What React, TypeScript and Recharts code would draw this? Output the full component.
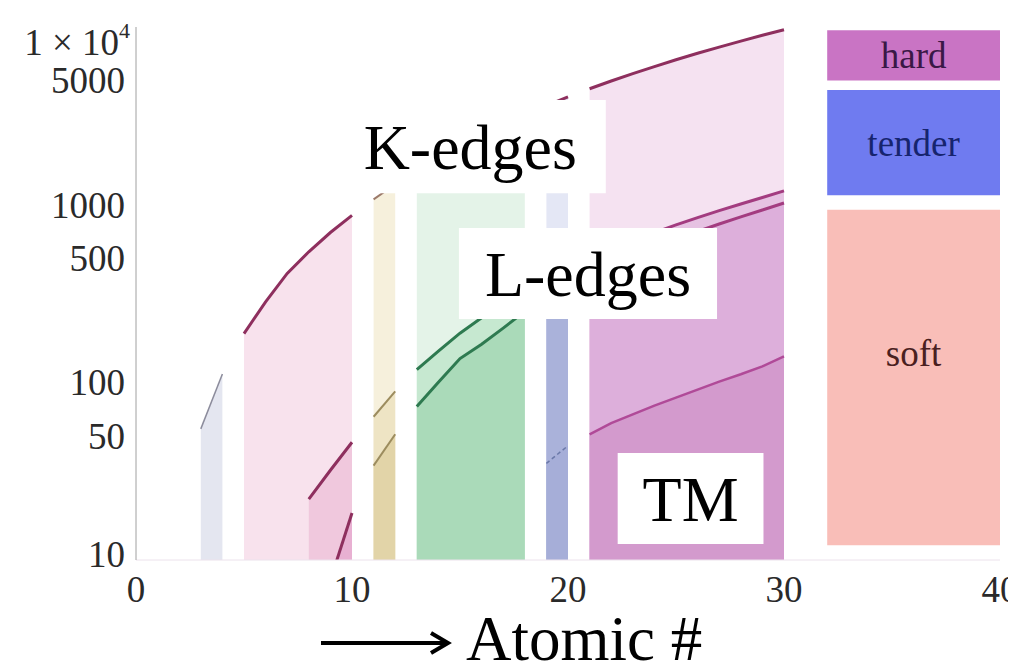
import React from "react";
import { ComposedChart, Area, XAxis, YAxis, ReferenceArea, Label } from "recharts";

// absorption edge energies (eV) by atomic number, one group of elements at a time
const liBeZ = [3, 4];
const liBeK = [54.7, 111.5];

const bNeZ = [5, 6, 7, 8, 9, 10];
const bNeK = [188, 284, 410, 543, 697, 870];
const bNeL1 = [null, null, null, 22, 32, 46];
const bNeL3 = [null, null, null, null, 7.7, 18.4];

const naMgZ = [11, 12];
const naMgK = [1071, 1303];
const naMgL1 = [64, 89];
const naMgL3 = [34, 51];

const alArZ = [13, 14, 15, 16, 17, 18];
const alArK = [1560, 1839, 2146, 2472, 2822, 3206];
const alArL1 = [118, 150, 189, 231, 270, 326];
const alArL3 = [73, 100, 136, 164, 202, 251];

const kCaZ = [19, 20];
const kCaK = [3608, 4038];
const kCaL1 = [379, 438];
const kCaL3 = [295, 346];
const kCaM = [35, 44];

const tmZ = [21, 22, 23, 24, 25, 26, 27, 28, 29, 30];
const tmK = [4492, 4966, 5465, 5989, 6539, 7112, 7709, 8333, 8979, 9659];
const tmL1 = [498, 561, 627, 696, 769, 845, 925, 1009, 1097, 1196];
const tmL3 = [399, 454, 512, 574, 639, 707, 778, 853, 933, 1022];
const tmM = [51, 59, 66, 74, 82, 91, 101, 111, 123, 140];

const xTicks = [0, 10, 20, 30, 40];
const yTicks = [10, 50, 100, 500, 1000, 5000, 10000];

// energy ranges shown as the key on the right
const hardRange = [5000, 9600];
const tenderRange = [1130, 4420];
const softRange = [12.1, 935];

type Seg = {
  key: string;
  z: number[];
  v: (number | null)[];
  fill: string;
  stroke: string;
  width: number;
  dash?: string;
};

const segments: Seg[] = [
  { key: "liBeK", z: liBeZ, v: liBeK, fill: "#e4e6f0", stroke: "#8c8c9c", width: 1.5 },
  { key: "bNeK", z: bNeZ, v: bNeK, fill: "#f8e2ed", stroke: "#8e2f5e", width: 3 },
  { key: "bNeL1", z: bNeZ, v: bNeL1, fill: "#f0c8dd", stroke: "#8e2f5e", width: 3 },
  { key: "bNeL3", z: bNeZ, v: bNeL3, fill: "#e8b0d2", stroke: "#8e2f5e", width: 3 },
  { key: "naMgK", z: naMgZ, v: naMgK, fill: "#f6f0dc", stroke: "#9c7a6a", width: 2 },
  { key: "naMgL1", z: naMgZ, v: naMgL1, fill: "#eee4c4", stroke: "#9c8c5e", width: 2 },
  { key: "naMgL3", z: naMgZ, v: naMgL3, fill: "#e2d4a8", stroke: "#9c8c5e", width: 2 },
  { key: "alArK", z: alArZ, v: alArK, fill: "#e4f3e8", stroke: "#8e2f5e", width: 3 },
  { key: "alArL1", z: alArZ, v: alArL1, fill: "#c6e8d0", stroke: "#2e7a50", width: 3 },
  { key: "alArL3", z: alArZ, v: alArL3, fill: "#aadab9", stroke: "#2e7a50", width: 3 },
  { key: "kCaK", z: kCaZ, v: kCaK, fill: "#e4e7f5", stroke: "#8e2f5e", width: 3 },
  { key: "kCaL1", z: kCaZ, v: kCaL1, fill: "#bcc3e4", stroke: "#5a6aa0", width: 2 },
  { key: "kCaL3", z: kCaZ, v: kCaL3, fill: "#aab2da", stroke: "#5a6aa0", width: 2 },
  { key: "kCaM", z: kCaZ, v: kCaM, fill: "#a6aed8", stroke: "#6a78a8", width: 1.5, dash: "4 3" },
  { key: "tmK", z: tmZ, v: tmK, fill: "#f5e2f1", stroke: "#8e2f5e", width: 3 },
  { key: "tmL1", z: tmZ, v: tmL1, fill: "#e6c2e2", stroke: "#a33c80", width: 3 },
  { key: "tmL3", z: tmZ, v: tmL3, fill: "#ddafdb", stroke: "#a33c80", width: 3 },
  { key: "tmM", z: tmZ, v: tmM, fill: "#d39acd", stroke: "#b04a98", width: 2.5 },
];

// one row per atomic number, one column per segment
const rows: Record<string, number | null>[] = [];
segments.forEach((s) => {
  s.z.forEach((z, i) => {
    let row = rows.find((r) => r.z === z);
    if (!row) {
      row = { z };
      rows.push(row);
    }
    row[s.key] = s.v[i];
  });
});
rows.sort((a, b) => (a.z as number) - (b.z as number));

const SERIF = "'Liberation Serif', 'Times New Roman', serif";

function EnergyTick(props: any) {
  const { x, y, payload } = props;
  const v = payload.value;
  if (v === 10000) {
    return (
      <text x={x + 5} y={y + 28} textAnchor="end" fontFamily={SERIF} fontSize={37} fill="#2a2a2a">
        1 × 10
        <tspan dy={-17} fontSize={22}>
          4
        </tspan>
      </text>
    );
  }
  const dy = v === 10 ? 7 : 13;
  return (
    <text x={x} y={y + dy} textAnchor="end" fontFamily={SERIF} fontSize={37} fill="#2a2a2a">
      {v}
    </text>
  );
}

function ZTick(props: any) {
  const { x, y, payload } = props;
  return (
    <text x={x} y={y + 42} textAnchor="middle" fontFamily={SERIF} fontSize={37} fill="#2a2a2a">
      {payload.value}
    </text>
  );
}

function AxisTitle() {
  return (
    <g>
      <line x1={313} y1={635} x2={438} y2={635} stroke="#000" strokeWidth={4} />
      <polyline points="423,625 440,635 423,645" fill="none" stroke="#000" strokeWidth={4} />
      <text x={458} y={652} fontFamily={SERIF} fontSize={63} fill="#000">
        Atomic #
      </text>
    </g>
  );
}

export default function App() {
  return (
    <ComposedChart
      width={1008}
      height={660}
      data={rows}
      margin={{ top: 19, right: 16, bottom: 0, left: 0 }}
    >
      <XAxis
        dataKey="z"
        type="number"
        domain={[0, 40]}
        ticks={xTicks}
        height={108}
        tickSize={0}
        tickMargin={0}
        tickLine={false}
        axisLine={{ stroke: "#ece2ec" }}
        tick={<ZTick />}
        label={<AxisTitle />}
      />
      <YAxis
        type="number"
        scale="log"
        domain={[10, 10000]}
        ticks={yTicks}
        allowDataOverflow
        width={128}
        tickSize={0}
        tickMargin={11}
        tickLine={false}
        axisLine={{ stroke: "#a0a0a0" }}
        tick={<EnergyTick />}
      />

      {segments.map((s) => (
        <Area
          key={s.key}
          dataKey={s.key}
          type="linear"
          baseValue={10}
          fill={s.fill}
          fillOpacity={1}
          stroke={s.stroke}
          strokeWidth={s.width}
          strokeDasharray={s.dash}
          dot={false}
          activeDot={false}
          connectNulls={false}
          isAnimationActive={false}
        />
      ))}

      <ReferenceArea x1={32} x2={40} y1={hardRange[0]} y2={hardRange[1]} fill="#c974c4" fillOpacity={1} stroke="none" zIndex={1000}>
        <Label value="hard" position="center" fontFamily={SERIF} fontSize={37} fill="#3a1846" />
      </ReferenceArea>
      <ReferenceArea x1={32} x2={40} y1={tenderRange[0]} y2={tenderRange[1]} fill="#6f7bf0" fillOpacity={1} stroke="none" zIndex={1000}>
        <Label value="tender" position="center" fontFamily={SERIF} fontSize={37} fill="#16246e" />
      </ReferenceArea>
      <ReferenceArea x1={32} x2={40} y1={softRange[0]} y2={softRange[1]} fill="#f9beb8" fillOpacity={1} stroke="none" zIndex={1000}>
        <Label value="soft" position="insideTop" offset={130} fontFamily={SERIF} fontSize={37} fill="#4a2020" />
      </ReferenceArea>

      <ReferenceArea x1={9.2} x2={21.75} y1={1160} y2={3880} fill="#ffffff" fillOpacity={1} stroke="none" zIndex={1000}>
        <Label value="K-edges" position="center" fontFamily={SERIF} fontSize={64} fill="#000" />
      </ReferenceArea>
      <ReferenceArea x1={14.95} x2={26.9} y1={227} y2={738} fill="#ffffff" fillOpacity={1} stroke="none" zIndex={1000}>
        <Label value="L-edges" position="center" fontFamily={SERIF} fontSize={64} fill="#000" />
      </ReferenceArea>
      <ReferenceArea x1={22.3} x2={29.05} y1={12.3} y2={40} fill="#ffffff" fillOpacity={1} stroke="none" zIndex={1000}>
        <Label value="TM" position="center" fontFamily={SERIF} fontSize={64} fill="#000" />
      </ReferenceArea>
    </ComposedChart>
  );
}
